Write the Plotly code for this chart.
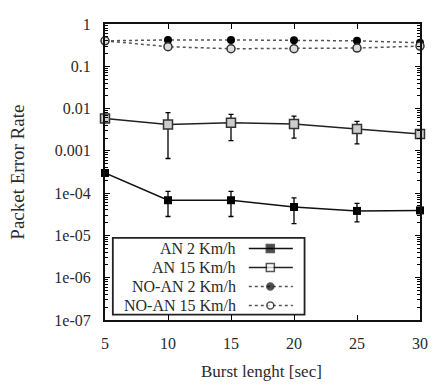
import plotly.graph_objects as go

burst = [5, 10, 15, 20, 25, 30]

an2 = [3.0e-4, 6.8e-5, 6.8e-5, 4.7e-5, 3.8e-5, 3.9e-5]
an2_hi = [3.0e-4, 1.1e-4, 1.1e-4, 7.7e-5, 5.7e-5, 4.3e-5]
an2_lo = [3.0e-4, 2.8e-5, 2.8e-5, 1.9e-5, 2.1e-5, 3.5e-5]

an15 = [5.8e-3, 4.2e-3, 4.6e-3, 4.3e-3, 3.3e-3, 2.5e-3]
an15_hi = [5.8e-3, 8.0e-3, 7.3e-3, 6.6e-3, 5.0e-3, 2.8e-3]
an15_lo = [5.8e-3, 6.6e-4, 1.75e-3, 2.0e-3, 1.47e-3, 2.2e-3]

noan2 = [0.40, 0.42, 0.42, 0.41, 0.40, 0.36]
noan15 = [0.40, 0.29, 0.26, 0.26, 0.27, 0.30]

ytick_vals = [1, 0.1, 0.01, 0.001, 1e-4, 1e-5, 1e-6, 1e-7]
ytick_text = ["1", "0.1", "0.01", "0.001", "1e-04", "1e-05", "1e-06", "1e-07"]
xtick_vals = [5, 10, 15, 20, 25, 30]

legend_names = ["AN 2 Km/h", "AN 15 Km/h", "NO-AN 2 Km/h", "NO-AN 15 Km/h"]

FONT = "Liberation Serif, Times New Roman, serif"
TXT = "#2a2a2a"

minor_vals = [k * 10.0 ** e for e in range(-7, 0) for k in range(2, 10)]

# page body has an 8px default margin: compensate
OFF = 8
fig = go.Figure()

def err(vals, hi, lo):
    return dict(type="data", symmetric=False,
                array=[h - v for h, v in zip(hi, vals)],
                arrayminus=[v - l for v, l in zip(vals, lo)],
                color="black", thickness=1.3, width=2.5)

fig.add_trace(go.Scatter(x=burst, y=noan2, mode="lines+markers", cliponaxis=False,
                         line=dict(color="#555", width=1.5, dash="dot"),
                         marker=dict(symbol="circle", size=8, color="black"),
                         showlegend=False))
fig.add_trace(go.Scatter(x=burst, y=noan15, mode="lines+markers", cliponaxis=False,
                         line=dict(color="#555", width=1.5, dash="dot"),
                         marker=dict(symbol="circle", size=8, color="#ddd",
                                     line=dict(color="#333", width=1.5)),
                         showlegend=False))
fig.add_trace(go.Scatter(x=burst, y=an15, mode="lines+markers", cliponaxis=False,
                         line=dict(color="#222", width=1.5),
                         marker=dict(symbol="square", size=9, color="#ccc",
                                     line=dict(color="#333", width=1.5)),
                         error_y=err(an15, an15_hi, an15_lo),
                         showlegend=False))
fig.add_trace(go.Scatter(x=burst, y=an2, mode="lines+markers", cliponaxis=False,
                         line=dict(color="#111", width=1.5),
                         marker=dict(symbol="square", size=8, color="black"),
                         error_y=err(an2, an2_hi, an2_lo),
                         showlegend=False))

# custom legend (gnuplot style: text right-aligned, sample on the right)
W, H = 322.0, 304.5
def px(x):
    return (x - 105) / W
def py(y):
    return (320.5 - y) / H

fig.add_shape(type="rect", xref="paper", yref="paper",
              x0=px(113), x1=px(309), y0=py(315), y1=py(236),
              line=dict(color="#222", width=1.8), fillcolor="white", layer="below")

rows = [247, 266.5, 286, 305.5]
styles = [
    dict(dash="solid", color="#111", sym="square", fill="black", size=8),
    dict(dash="solid", color="#222", sym="square", fill="white", size=8),
    dict(dash="dot", color="#555", sym="circle", fill="black", size=7),
    dict(dash="dot", color="#555", sym="circle", fill="white", size=7),
]
for name, ry, st in zip(legend_names, rows, styles):
    fig.add_annotation(x=px(241), y=py(ry), xref="paper", yref="paper",
                       text=name, showarrow=False, xanchor="right", yanchor="middle",
                       font=dict(family=FONT, size=16, color=TXT))
    fig.add_trace(go.Scatter(x=[px(252), px(274), px(297)], y=[py(ry)] * 3,
                             xaxis="x2", yaxis="y2", mode="lines+markers",
                             line=dict(color=st["color"], width=1.5, dash=st["dash"]),
                             marker=dict(symbol=st["sym"], size=[0, st["size"], 0],
                                         color=st["fill"],
                                         line=dict(color="#111", width=1.5)),
                             showlegend=False, hoverinfo="skip"))

fig.update_layout(
    width=436 - OFF, height=385 - OFF,
    margin=dict(l=105 - OFF, r=9, t=16 - OFF, b=64.5),
    paper_bgcolor="white", plot_bgcolor="white",
    showlegend=False,
    font=dict(family=FONT, size=16, color=TXT),
    xaxis=dict(range=[5, 30], tickvals=xtick_vals, ticks="inside", ticklen=5,
               tickwidth=1, tickcolor="black", showgrid=False, zeroline=False,
               showline=True, linecolor="#111", linewidth=2, mirror="ticks",
               tickfont=dict(family=FONT, size=16, color=TXT), ticklabelstandoff=8),
    yaxis=dict(type="log", range=[-7, 0], tickvals=ytick_vals, ticktext=ytick_text,
               ticks="inside", ticklen=5, tickwidth=1, tickcolor="black",
               showgrid=False, zeroline=False, showline=True, linecolor="#111",
               linewidth=2, mirror="ticks",
               minor=dict(tickvals=minor_vals, ticks="inside", ticklen=3,
                          tickcolor="black", tickwidth=1, showgrid=False),
               tickfont=dict(family=FONT, size=16, color=TXT), ticklabelstandoff=9),
    xaxis2=dict(range=[0, 1], overlaying="x", visible=False, fixedrange=True),
    yaxis2=dict(range=[0, 1], overlaying="y", visible=False, fixedrange=True),
)

fig.add_annotation(x=px(265), y=py(373), xref="paper", yref="paper",
                   text="Burst lenght [sec]", showarrow=False, yanchor="middle",
                   font=dict(family=FONT, size=17, color=TXT))
fig.add_annotation(x=px(16), y=py(168), xref="paper", yref="paper",
                   text="Packet Error Rate", showarrow=False, textangle=-90,
                   xanchor="center", yanchor="middle",
                   font=dict(family=FONT, size=19, color=TXT))

fig.write_html("out.html")
